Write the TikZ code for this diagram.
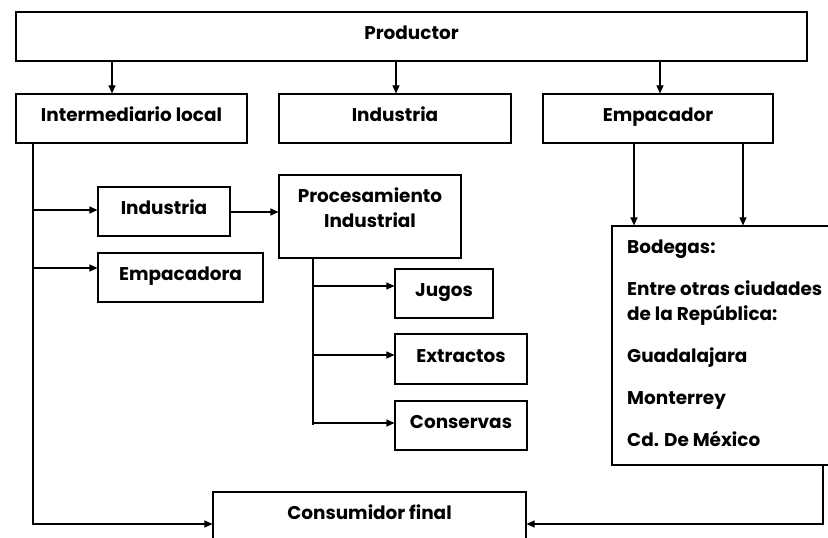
\documentclass[tikz,border=0pt]{standalone}
\usepackage{fontspec}
\setmainfont{Poppins}
\usetikzlibrary{arrows.meta}
\begin{document}
\begin{tikzpicture}[x=1bp,y=-1bp,
  lbl/.style={font=\fontsize{18.5}{25}\selectfont\bfseries},
  box/.style={draw, line width=1.1bp, inner sep=0pt, minimum height=49bp, lbl, text height=10.5bp, text depth=4bp},
  arr/.style={-{Triangle[length=8bp,width=7bp]}, line width=1.1bp},
  ln/.style={line width=1.1bp}]
\useasboundingbox (0,0) rectangle (828,538);
\clip (0,0) rectangle (828,538);
% boxes
\node[box, minimum width=791bp] (prod) at (411.5,36.5) {Productor};
\node[box, minimum width=231bp] (inter) at (131.5,118.5) {Intermediario local};
\node[box, minimum width=232bp] (ind1) at (395,118.5) {Industria};
\node[box, minimum width=230bp] (emp) at (658,118.5) {Empacador};
\node[box, minimum width=132bp] (ind2) at (164,211.5) {Industria};
\node[box, minimum width=165bp] (empa) at (180.5,277.5) {Empacadora};
\node[draw, line width=1.1bp, inner sep=0pt, minimum width=182bp, minimum height=83bp] (proc) at (370,216.5) {};
\node[lbl, align=center, anchor=north, inner sep=0pt] (proct) at (370,188) {Procesamiento\\Industrial};
\node[box, minimum width=98bp] (jugos) at (444,293.5) {Jugos};
\node[box, minimum width=132bp, minimum height=50bp] (extr) at (461,359) {Extractos};
\node[box, minimum width=132bp] (cons) at (461,425.5) {Conservas};
\node[draw, line width=1.1bp, inner sep=0pt, minimum width=228bp, minimum height=239bp] (bod) at (726,345.5) {};
\node[lbl, align=left, anchor=north west, inner sep=0pt] (bodt) at (627,240) {Bodegas:\\[17bp]Entre otras ciudades\\de la Rep\'ublica:\\[17bp]Guadalajara\\[17bp]Monterrey\\[17bp]Cd. De M\'exico};
\node[box, minimum width=313bp] (cf) at (369.5,516.5) {Consumidor final};
% coordinates
\coordinate (cA) at (112,0);
\coordinate (cB) at (396,0);
\coordinate (cC) at (660,0);
\coordinate (d1) at (634,0);
\coordinate (d2) at (743,0);
\coordinate (tL) at (33,524);
\coordinate (tP) at (313,425);
\coordinate (tR) at (823,524);
\coordinate (jin) at ([yshift=7.5bp]jugos.west);
\coordinate (ein) at ([yshift=4bp]extr.west);
\coordinate (cin) at ([yshift=2.5bp]cons.west);
\coordinate (ain) at ([yshift=9.5bp]empa.west);
\coordinate (iin) at ([yshift=1.5bp]ind2.west);
\coordinate (pin) at ([yshift=-0.5bp]ind2.east);
% connectors
\draw[arr] (prod.south -| cA) -- (inter.north -| cA);
\draw[arr] (prod.south -| cB) -- (ind1.north -| cB);
\draw[arr] (prod.south -| cC) -- (emp.north -| cC);
\draw[arr] (inter.south -| tL) -- (tL) -- (cf.west |- tL);
\draw[arr] (iin -| tL) -- (iin);
\draw[arr] (ain -| tL) -- (ain);
\draw[arr] (pin) -- (pin -| proc.west);
\draw[ln] (proc.south -| tP) -- (tP);
\draw[arr] (jin -| tP) -- (jin);
\draw[arr] (ein -| tP) -- (ein);
\draw[arr] (cin -| tP) -- (cin);
\draw[arr] (emp.south -| d1) -- (bod.north -| d1);
\draw[arr] (emp.south -| d2) -- (bod.north -| d2);
\draw[arr] (bod.south -| tR) -- (tR) -- (cf.east |- tR);
\end{tikzpicture}
\end{document}
